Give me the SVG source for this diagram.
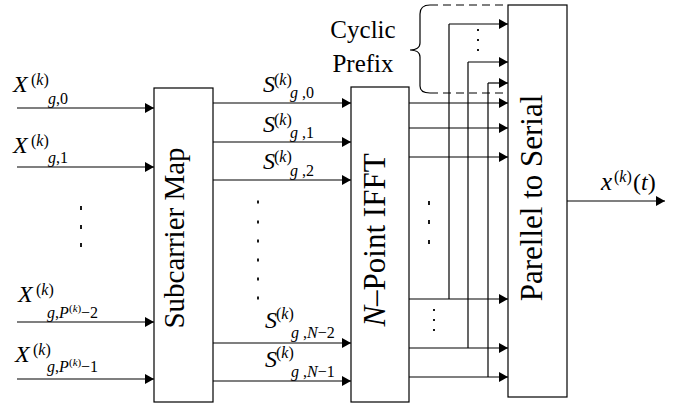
<svg xmlns="http://www.w3.org/2000/svg" width="686" height="405" viewBox="0 0 686 405" font-family="Liberation Serif, Times New Roman, serif">
<style>
text{font-family:"Liberation Serif",serif;fill:#000}
.it{font-style:italic}
.X{font-size:24px;font-style:italic}
.S{font-size:24px;font-style:italic}
.sup{font-size:16px}
.sub{font-size:16px}
.sup2{font-size:11px}
.ln{stroke:#000;stroke-width:1.2;fill:none}
.ar{stroke:#000;stroke-width:1.2;fill:none;marker-end:url(#ah)}
.box{fill:#fff;stroke:#000;stroke-width:1.2}
.dash{stroke:#000;stroke-width:1.2;stroke-dasharray:8,5;fill:none}
.dot{stroke:#000;stroke-width:1.8}
.big{font-size:29px}
</style>
<defs>
<marker id="ah" markerWidth="9" markerHeight="10" refX="9" refY="5" orient="auto" markerUnits="userSpaceOnUse">
<path d="M0,0 L9,5 L0,10 z" fill="#000"/>
</marker>
</defs>

<g id="connectors">
<line class="ar" x1="17" y1="108" x2="154" y2="108"/>
<line class="ar" x1="17" y1="167" x2="154" y2="167"/>
<line class="ar" x1="17" y1="322" x2="154" y2="322"/>
<line class="ar" x1="17" y1="379" x2="154" y2="379"/>

<line class="ar" x1="213" y1="103" x2="351" y2="103"/>
<line class="ar" x1="213" y1="142" x2="351" y2="142"/>
<line class="ar" x1="213" y1="180" x2="351" y2="180"/>
<line class="ar" x1="213" y1="343" x2="351" y2="343"/>
<line class="ar" x1="213" y1="381" x2="351" y2="381"/>

<line class="ar" x1="409" y1="103" x2="508" y2="103"/>
<line class="ar" x1="409" y1="128" x2="508" y2="128"/>
<line class="ar" x1="409" y1="157" x2="508" y2="157"/>
<line class="ar" x1="409" y1="299" x2="508" y2="299"/>
<line class="ar" x1="409" y1="348" x2="508" y2="348"/>
<line class="ar" x1="409" y1="377" x2="508" y2="377"/>

<line class="ln" x1="449" y1="24" x2="449" y2="299"/>
<line class="ln" x1="468" y1="62" x2="468" y2="348"/>
<line class="ln" x1="488" y1="83" x2="488" y2="377"/>
<line class="ar" x1="449" y1="24" x2="508" y2="24"/>
<line class="ar" x1="468" y1="62" x2="508" y2="62"/>
<line class="ar" x1="488" y1="83" x2="508" y2="83"/>

<line class="ar" x1="567" y1="201" x2="665" y2="201"/>

<line class="dash" x1="430" y1="5" x2="508" y2="5"/>
<line class="dash" x1="430" y1="93" x2="508" y2="93"/>
<path class="ln" d="M430,5 C423,5 420,8 420,14 L420,43 C420,48 415,50 410,50 C415,50 420,52 420,57 L420,86 C420,91 423,93 430,93"/>
</g>

<g id="dots">
<line class="dot" x1="81" y1="206" x2="81" y2="210"/>
<line class="dot" x1="81" y1="225" x2="81" y2="229"/>
<line class="dot" x1="81" y1="243" x2="81" y2="247"/>

<line class="dot" x1="258" y1="200.5" x2="258" y2="203.5"/>
<line class="dot" x1="258" y1="220.5" x2="258" y2="223.5"/>
<line class="dot" x1="258" y1="239.5" x2="258" y2="242.5"/>
<line class="dot" x1="258" y1="258.5" x2="258" y2="261.5"/>
<line class="dot" x1="258" y1="277.5" x2="258" y2="280.5"/>
<line class="dot" x1="258" y1="296.5" x2="258" y2="299.5"/>

<line class="dot" x1="429" y1="201" x2="429" y2="205"/>
<line class="dot" x1="429" y1="220" x2="429" y2="224"/>
<line class="dot" x1="429" y1="240" x2="429" y2="244"/>

<line class="dot" x1="434" y1="309" x2="434" y2="311"/>
<line class="dot" x1="434" y1="319" x2="434" y2="321"/>
<line class="dot" x1="434" y1="329" x2="434" y2="331"/>

<line class="dot" x1="478" y1="29" x2="478" y2="31"/>
<line class="dot" x1="478" y1="39" x2="478" y2="41"/>
<line class="dot" x1="478" y1="49" x2="478" y2="51"/>
</g>

<g id="subcarrier-map">
<rect class="box" x="154" y="88" width="59" height="314"/>
<text class="big" text-anchor="middle" transform="translate(184,238) rotate(-90)">Subcarrier Map</text>
</g>

<g id="ifft">
<rect class="box" x="351" y="87" width="58" height="315"/>
<text style="font-size:31px" text-anchor="middle" transform="translate(385,240) rotate(-90)"><tspan class="it">N</tspan>–Point IFFT</text>
</g>

<g id="p2s">
<rect class="box" x="508" y="5" width="59" height="392"/>
<text style="font-size:31px" text-anchor="middle" transform="translate(542,198) rotate(-90)">Parellel to Serial</text>
</g>

<g id="cp-label">
<text style="font-size:25px" x="363" y="38" text-anchor="middle">Cyclic</text>
<text style="font-size:25px" x="363" y="72" text-anchor="middle">Prefix</text>
</g>

<g id="input-labels">
<text class="X" x="13" y="92">X</text>
<text class="sup" x="31" y="85">(<tspan class="it">k</tspan>)</text>
<text class="sub" x="48" y="104"><tspan class="it">g</tspan>,0</text>

<text class="X" x="13" y="153">X</text>
<text class="sup" x="31" y="146">(<tspan class="it">k</tspan>)</text>
<text class="sub" x="48" y="163"><tspan class="it">g</tspan>,1</text>

<text class="X" x="18" y="302">X</text>
<text class="sup" x="36" y="295">(<tspan class="it">k</tspan>)</text>
<text class="sub" x="47" y="318"><tspan class="it">g</tspan>,<tspan class="it">P</tspan></text>
<text class="sup2" x="69" y="312">(<tspan class="it">k</tspan>)</text>
<text class="sub" x="81" y="318">−2</text>

<text class="X" x="15" y="362">X</text>
<text class="sup" x="33" y="355">(<tspan class="it">k</tspan>)</text>
<text class="sub" x="47" y="372"><tspan class="it">g</tspan>,<tspan class="it">P</tspan></text>
<text class="sup2" x="69" y="366">(<tspan class="it">k</tspan>)</text>
<text class="sub" x="81" y="372">−1</text>
</g>

<g id="s-labels">
<text class="S" x="263" y="92">S</text>
<text class="sup" x="274" y="85">(<tspan class="it">k</tspan>)</text>
<text class="sub" x="290" y="98"><tspan class="it">g</tspan> ,0</text>

<text class="S" x="263" y="132">S</text>
<text class="sup" x="274" y="125">(<tspan class="it">k</tspan>)</text>
<text class="sub" x="290" y="138"><tspan class="it">g</tspan> ,1</text>

<text class="S" x="263" y="169">S</text>
<text class="sup" x="274" y="162">(<tspan class="it">k</tspan>)</text>
<text class="sub" x="290" y="176"><tspan class="it">g</tspan> ,2</text>

<text class="S" x="265" y="328">S</text>
<text class="sup" x="276" y="319">(<tspan class="it">k</tspan>)</text>
<text class="sub" x="291" y="338"><tspan class="it">g</tspan> ,<tspan class="it">N</tspan>−2</text>

<text class="S" x="265" y="367">S</text>
<text class="sup" x="276" y="358">(<tspan class="it">k</tspan>)</text>
<text class="sub" x="291" y="377"><tspan class="it">g</tspan> ,<tspan class="it">N</tspan>−1</text>
</g>

<g id="output-label">
<text style="font-size:25px;font-style:italic" x="601" y="190">x</text>
<text style="font-size:16px" x="614" y="182">(<tspan class="it">k</tspan>)</text>
<text style="font-size:24px" x="633" y="190">(<tspan class="it">t</tspan>)</text>
</g>
</svg>
